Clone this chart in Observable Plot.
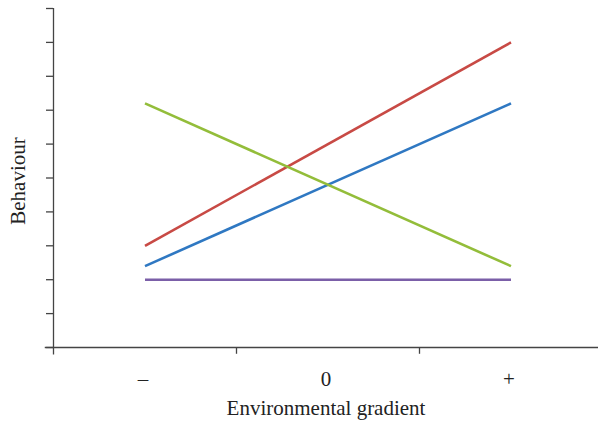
<!DOCTYPE html>
<html>
<head>
<meta charset="utf-8">
<script src="https://cdn.jsdelivr.net/npm/d3@7"></script>
<script src="https://cdn.jsdelivr.net/npm/@observablehq/plot@0.6"></script>
<style>
  html, body { margin: 0; padding: 0; background: #fff; }
  svg { overflow: visible; }
</style>
</head>
<body>
<div id="chart"></div>
<script>
// Data
const gradientLabels = ["–", "0", "+"];
const gradientPos = [0.5, 1.5, 2.5];       // category centres
const endpoints = ["–", "+"];
const redValues = [3.0, 9.0];
const blueValues = [2.4, 7.2];
const greenValues = [7.2, 2.4];
const purpleValues = [2.0, 2.0];
const seriesNames = ["Response A", "Response B", "Response C", "Response D"];
const seriesColors = ["#c84a45", "#2f78c2", "#93bd3a", "#7b5fa8"];
const yTicks = d3.range(0, 11);
const xBoundaries = [1, 2];

const posOf = l => gradientPos[gradientLabels.indexOf(l)];
const allValues = [redValues, blueValues, greenValues, purpleValues];
const rows = [];
seriesNames.forEach((s, i) => {
  endpoints.forEach((e, j) => rows.push({series: s, x: posOf(e), y: allValues[i][j]}));
});

const axisColor = "#444";
const textColor = "#222";
const plot = Plot.plot({
  width: 598,
  height: 423,
  marginLeft: 53,
  marginRight: 0,
  marginTop: 8,
  marginBottom: 76,
  style: {fontFamily: "'Liberation Serif', 'Times New Roman', serif", fontSize: "21px", color: textColor},
  x: {domain: [0, 545 / 183], axis: null},
  y: {domain: [0, 10], axis: null},
  color: {domain: seriesNames, range: seriesColors},
  marks: [
    // y axis line
    Plot.ruleX([0], {y1: -0.22, y2: 10, stroke: axisColor, strokeWidth: 1.3}),
    // x axis line
    Plot.ruleY([0], {x1: -0.045, x2: 545 / 183, stroke: axisColor, strokeWidth: 1.3}),
    // y ticks
    Plot.axisY({ticks: yTicks, tickFormat: () => "", tickSize: 7, label: null, stroke: axisColor, strokeWidth: 1.3}),
    // x boundary ticks
    Plot.ruleX(xBoundaries, {y1: 0, y2: -0.2, stroke: axisColor, strokeWidth: 1.3}),
    // x labels
    Plot.text(gradientLabels, {x: (d, i) => gradientPos[i], y: 0, text: d => d, dy: 32, dx: -2, fontSize: 21, fill: textColor}),
    // axis titles
    Plot.text(["Environmental gradient"], {frameAnchor: "bottom", dy: 67, fontSize: 21, fill: textColor}),
    Plot.text(["Behaviour"], {frameAnchor: "left", textAnchor: "middle", rotate: -90, dx: -35, dy: 3, fontSize: 21, fill: textColor}),
    // series lines
    Plot.line(rows, {x: "x", y: "y", z: "series", stroke: "series", strokeWidth: 2.6, strokeLinecap: "butt"})
  ]
});
document.getElementById("chart").appendChild(plot);
</script>
</body>
</html>
